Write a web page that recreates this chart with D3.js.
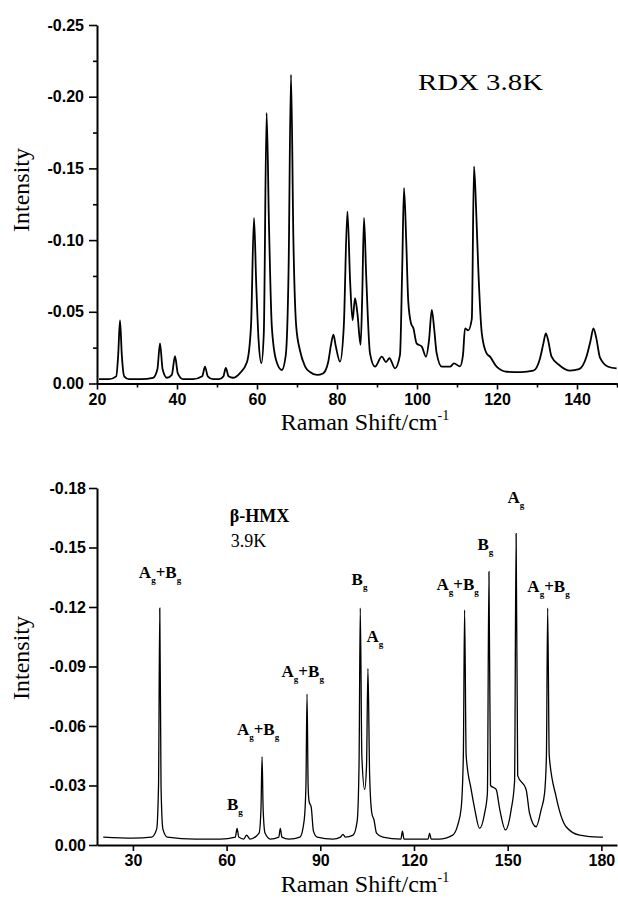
<!DOCTYPE html>
<html>
<head>
<meta charset="utf-8">
<script src="https://cdn.jsdelivr.net/npm/d3@7"></script>
<style>
  body { margin: 0; background: #fff; }
  .tick text { font-family: "Liberation Sans", Arial, sans-serif; font-weight: bold; font-size: 16px; fill: #000; }
  .title { font-family: "Liberation Serif", "Times New Roman", serif; font-size: 24px; fill: #000; }
  .note { font-family: "Liberation Serif", "Times New Roman", serif; fill: #000; }
</style>
</head>
<body>
<div id="chart"></div>
<script>
// RDX 3.8K
const rdxShift = [20.5, 23, 24.8, 25.3, 25.75, 26.2, 26.8, 28, 31, 34, 35.1, 35.75, 36.4, 37.5, 38.7, 39.5, 40.2, 41.5, 44,
  46.3, 47, 47.7, 49, 50.5, 51.6, 52.2, 52.9, 54, 55.75, 57.5, 58.5, 59.25, 59.8, 60.4, 61.1, 61.7, 62.4, 63.0, 63.7, 64.8,
  66.2, 67.2, 67.9, 68.5, 69.1, 69.8, 70.75, 72, 73.25, 75, 76.5, 77.8, 78.5, 79.1, 79.7, 80.75, 81.7, 82.6, 83.3, 83.9,
  84.5, 85.1, 85.9, 86.3, 86.75, 87.3, 88.25, 89.5, 91.2, 92.25, 93.1, 94.5, 95.75, 96.3, 96.75, 97.3, 97.8, 98.5, 99.1,
  99.9, 101.2, 102.25, 103.0, 103.7, 104.3, 104.9, 106.2, 108.25, 109.25, 110.75, 111.5, 112, 112.8, 113.7, 114.25, 114.8,
  115.3, 116.2, 117.4, 118.25, 119.9, 122.4, 126, 129.1, 130.75, 131.6, 132.2, 132.8, 133.6, 135.75, 138.25, 140.5, 142.4,
  143.4, 144.1, 144.8, 145.75, 147.8, 149.9];
const rdxIntensity = [-0.003, -0.003, -0.005, -0.020, -0.044, -0.020, -0.005, -0.003, -0.003, -0.004, -0.010, -0.028, -0.010, -0.004, -0.006, -0.019, -0.007, -0.003, -0.003,
  -0.005, -0.0117, -0.005, -0.003, -0.003, -0.005, -0.0108, -0.005, -0.004, -0.0073, -0.015, -0.040, -0.1154, -0.070, -0.030, -0.0142, -0.035, -0.1887, -0.110, -0.040, -0.016,
  -0.0094, -0.020, -0.080, -0.2154, -0.100, -0.040, -0.023, -0.012, -0.008, -0.006, -0.007, -0.015, -0.027, -0.034, -0.026, -0.0152, -0.040, -0.120, -0.070, -0.044,
  -0.0595, -0.049, -0.0269, -0.060, -0.1154, -0.075, -0.021, -0.0117, -0.0187, -0.015, -0.0176, -0.0106, -0.020, -0.080, -0.1363, -0.100, -0.058, -0.042, -0.0385,
  -0.028, -0.0257, -0.0187, -0.030, -0.0513, -0.038, -0.0213, -0.0117, -0.0117, -0.014, -0.012, -0.020, -0.0385, -0.037, -0.045, -0.1514, -0.120,
  -0.0816, -0.035, -0.021, -0.0187, -0.0117, -0.0082, -0.008, -0.009, -0.0175, -0.028, -0.035, -0.030, -0.019, -0.0124, -0.009, -0.010, -0.019,
  -0.030, -0.0385, -0.032, -0.018, -0.0117, -0.0106];
const rdxXTicks = [20, 40, 60, 80, 100, 120, 140];
const rdxXMinor = [30, 50, 70, 90, 110, 130, 150];
const rdxYTicks = [0, -0.05, -0.10, -0.15, -0.20, -0.25];
const rdxYMinor = [-0.025, -0.075, -0.125, -0.175, -0.225];

// beta-HMX 3.9K
const hmxShift = [20.5, 30, 36, 37.6, 38.2, 38.6, 39.0, 39.6, 41, 50, 58, 62.8, 63.35, 63.9, 65.5, 66.4, 67.5, 70.4, 71.0, 71.35,
  71.7, 72.3, 74, 76.7, 77.2, 77.7, 80, 83.5, 84.8, 85.4, 85.75, 86.1, 86.4, 87.1, 87.8, 89, 94, 96.5, 97.25, 98,
  100.5, 101.8, 102.4, 102.8, 103.3, 104.2, 104.8, 105.25, 105.8, 106.5, 107.2, 108, 110, 115.8, 116.3, 116.8, 120, 124.5, 125, 125.5,
  128, 132.4, 134, 135.1, 135.8, 136.2, 136.7, 138.3, 139.4, 141, 142.6, 143.5, 144.0, 144.5, 146.3, 147.4, 149.3, 151.1, 152.2, 152.7,
  153.2, 155.9, 157, 159.1, 160.7, 161.8, 162.4, 162.8, 163.3, 165.5, 168.7, 173, 179.3, 180.5];
const hmxIntensity = [-0.004, -0.0035, -0.004, -0.008, -0.030, -0.1194, -0.030, -0.008, -0.004, -0.003, -0.003, -0.004, -0.0084, -0.004, -0.003, -0.005, -0.003, -0.006, -0.018, -0.0445,
  -0.018, -0.006, -0.003, -0.004, -0.0084, -0.004, -0.003, -0.004, -0.012, -0.030, -0.0761, -0.030, -0.022, -0.019, -0.007, -0.004, -0.003, -0.004, -0.0054, -0.004,
  -0.005, -0.012, -0.040, -0.1194, -0.045, -0.028, -0.040, -0.089, -0.035, -0.016, -0.0126, -0.006, -0.004, -0.003, -0.007, -0.003, -0.003, -0.003, -0.006, -0.003,
  -0.003, -0.005, -0.010, -0.0185, -0.045, -0.1185, -0.045, -0.028, -0.0185, -0.0084, -0.016, -0.026, -0.1378, -0.030, -0.028, -0.0185, -0.0076, -0.0177, -0.032, -0.157,
  -0.035, -0.028, -0.016, -0.0092, -0.0177, -0.026, -0.045, -0.1194, -0.045, -0.0244, -0.0092, -0.005, -0.004, -0.004];
const hmxXTicks = [30, 60, 90, 120, 150, 180];
const hmxYTicks = [0, -0.03, -0.06, -0.09, -0.12, -0.15, -0.18];

// mode labels over the beta-HMX peaks (text start, baseline)
const hmxModes = ['A+B', 'B', 'A+B', 'A+B', 'B', 'A', 'A+B', 'B', 'A', 'A+B'];
const hmxModeShift = [31.9, 60.1, 63.3, 77.6, 100.0, 104.8, 127.2, 140.3, 149.9, 156.3];
const hmxModeIntensity = [-0.1346, -0.0177, -0.0555, -0.0847, -0.1311, -0.1024, -0.1286, -0.1488, -0.1725, -0.1276];

const svg = d3.select('#chart').append('svg')
  .attr('width', 618)
  .attr('height', 898);

function drawPanel(p) {
  const x = d3.scaleLinear().domain(p.xDomain).range([97, 617]);
  const y = d3.scaleLinear().domain(p.yDomain).range([p.bottom, p.top]);
  const g = svg.append('g');

  // minor ticks first
  if (p.xMinor) {
    g.append('g')
      .attr('transform', `translate(0,${p.bottom})`)
      .call(d3.axisBottom(x).tickValues(p.xMinor).tickSize(4).tickFormat(''))
      .call(s => s.select('.domain').remove());
  }
  if (p.yMinor) {
    g.append('g')
      .attr('transform', 'translate(97,0)')
      .call(d3.axisLeft(y).tickValues(p.yMinor).tickSize(4).tickFormat(''))
      .call(s => s.select('.domain').remove());
  }

  g.append('g')
    .attr('transform', `translate(0,${p.bottom})`)
    .call(d3.axisBottom(x).tickValues(p.xTicks).tickSize(6).tickSizeOuter(0).tickPadding(4).tickFormat(d3.format('d')));

  g.append('g')
    .attr('transform', 'translate(97,0)')
    .call(d3.axisLeft(y).tickValues(p.yTicks).tickSize(8).tickSizeOuter(0).tickPadding(p.yPad).tickFormat(d => d.toFixed(2)));

  g.selectAll('.domain').attr('stroke', '#000').attr('stroke-width', 2);
  g.selectAll('.tick line').attr('stroke', '#000').attr('stroke-width', 1.6);

  const line = d3.line()
    .x((d, i) => x(p.shift[i]))
    .y((d, i) => y(p.intensity[i]))
    .curve(d3.curveMonotoneX);

  g.append('path')
    .datum(p.shift)
    .attr('d', line)
    .attr('fill', 'none')
    .attr('stroke', '#000')
    .attr('stroke-width', p.lineWidth);

  // axis titles
  const xt = g.append('text')
    .attr('class', 'title')
    .attr('x', 365)
    .attr('y', p.xTitleY)
    .attr('font-size', 23)
    .attr('text-anchor', 'middle');
  xt.append('tspan').text('Raman Shift/cm');
  xt.append('tspan').attr('font-size', 14).attr('dy', -10).text('-1');

  g.append('text')
    .attr('class', 'title')
    .attr('transform', `translate(29,${p.yTitleY}) rotate(-90)`)
    .attr('text-anchor', 'middle')
    .text('Intensity');

  return { g, x, y };
}

const rdxPanel = drawPanel({
  xDomain: [20, 150], yDomain: [0, -0.25], top: 25, bottom: 383.5,
  xTicks: rdxXTicks, xMinor: rdxXMinor, yTicks: rdxYTicks, yMinor: rdxYMinor, yPad: 5,
  shift: rdxShift, intensity: rdxIntensity, lineWidth: 1.8,
  xTitleY: 430, yTitleY: 190
});

rdxPanel.g.append('text')
  .attr('class', 'note')
  .attr('x', rdxPanel.x(100.25))
  .attr('y', rdxPanel.y(-0.205))
  .attr('font-size', 24)
  .attr('textLength', 125)
  .attr('lengthAdjust', 'spacingAndGlyphs')
  .text('RDX 3.8K');

const hmxPanel = drawPanel({
  xDomain: [18.5, 185], yDomain: [0, -0.18], top: 488, bottom: 845,
  xTicks: hmxXTicks, yTicks: hmxYTicks, yPad: 3,
  shift: hmxShift, intensity: hmxIntensity, lineWidth: 1.3,
  xTitleY: 892, yTitleY: 658
});

hmxPanel.g.append('text')
  .attr('class', 'note')
  .attr('x', hmxPanel.x(61.0))
  .attr('y', hmxPanel.y(-0.1629))
  .attr('font-size', 18)
  .attr('font-weight', 'bold')
  .text('β-HMX');

hmxPanel.g.append('text')
  .attr('class', 'note')
  .attr('x', hmxPanel.x(61.3))
  .attr('y', hmxPanel.y(-0.1503))
  .attr('font-size', 18)
  .text('3.9K');

hmxModes.forEach((m, i) => {
  const t = hmxPanel.g.append('text')
    .attr('class', 'note')
    .attr('x', hmxPanel.x(hmxModeShift[i]))
    .attr('y', hmxPanel.y(hmxModeIntensity[i]))
    .attr('font-size', 17)
    .attr('font-weight', 'bold');
  m.split('+').forEach((part, j) => {
    t.append('tspan').attr('dy', j === 0 ? 0 : -5).text(j === 0 ? part : '+' + part);
    t.append('tspan').attr('font-size', 9).attr('dy', 5).text('g');
  });
});
</script>
</body>
</html>
